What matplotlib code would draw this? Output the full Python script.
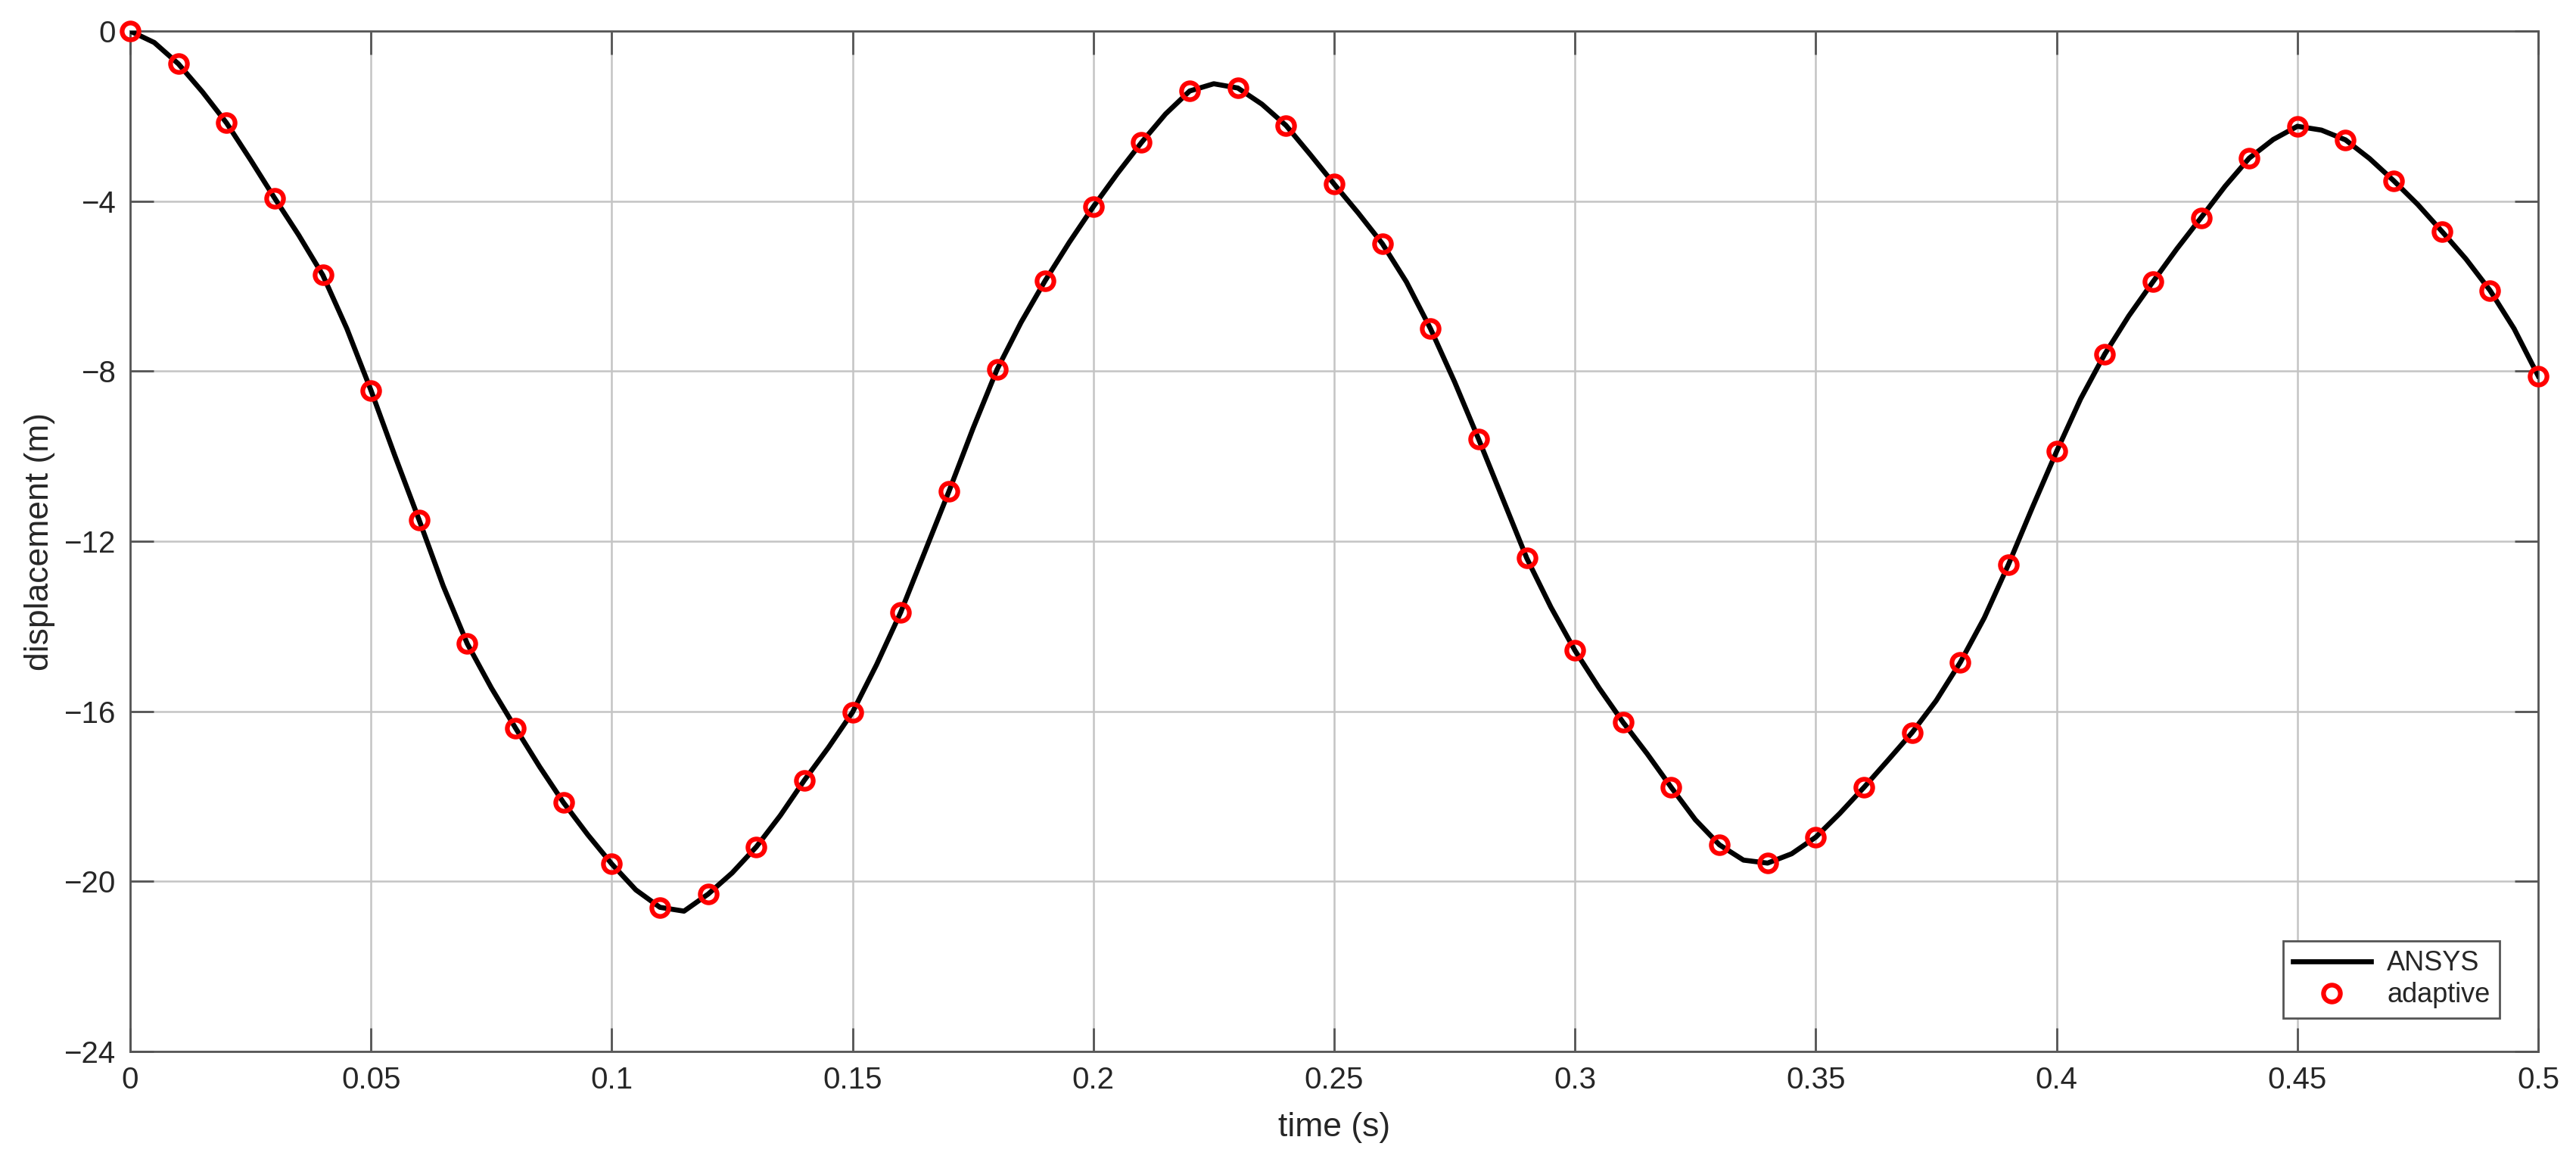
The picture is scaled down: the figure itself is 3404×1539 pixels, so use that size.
import matplotlib
matplotlib.use("Agg")
import matplotlib.pyplot as plt

t_adapt = [0.00, 0.01, 0.02, 0.03, 0.04, 0.05, 0.06, 0.07, 0.08, 0.09,
           0.10, 0.11, 0.12, 0.13, 0.14, 0.15, 0.16, 0.17, 0.18, 0.19,
           0.20, 0.21, 0.22, 0.23, 0.24, 0.25, 0.26, 0.27, 0.28, 0.29,
           0.30, 0.31, 0.32, 0.33, 0.34, 0.35, 0.36, 0.37, 0.38, 0.39,
           0.40, 0.41, 0.42, 0.43, 0.44, 0.45, 0.46, 0.47, 0.48, 0.49, 0.50]
u_adapt = [0.00, -0.77, -2.16, -3.93, -5.74, -8.45, -11.50, -14.41, -16.39, -18.15,
           -19.59, -20.61, -20.30, -19.19, -17.62, -16.02, -13.67, -10.83, -7.96, -5.87,
           -4.13, -2.62, -1.41, -1.34, -2.22, -3.60, -5.00, -7.00, -9.60, -12.40,
           -14.57, -16.26, -17.79, -19.14, -19.57, -18.96, -17.79, -16.50, -14.85, -12.55,
           -9.89, -7.60, -5.90, -4.39, -2.99, -2.24, -2.56, -3.52, -4.71, -6.10, -8.11]

# ANSYS reference curve, every 0.005 s
t_ansys = [0.000, 0.005, 0.010, 0.015, 0.020, 0.025, 0.030, 0.035, 0.040, 0.045,
           0.050, 0.055, 0.060, 0.065, 0.070, 0.075, 0.080, 0.085, 0.090, 0.095,
           0.100, 0.105, 0.110, 0.115, 0.120, 0.125, 0.130, 0.135, 0.140, 0.145,
           0.150, 0.155, 0.160, 0.165, 0.170, 0.175, 0.180, 0.185, 0.190, 0.195,
           0.200, 0.205, 0.210, 0.215, 0.220, 0.225, 0.230, 0.235, 0.240, 0.245,
           0.250, 0.255, 0.260, 0.265, 0.270, 0.275, 0.280, 0.285, 0.290, 0.295,
           0.300, 0.305, 0.310, 0.315, 0.320, 0.325, 0.330, 0.335, 0.340, 0.345,
           0.350, 0.355, 0.360, 0.365, 0.370, 0.375, 0.380, 0.385, 0.390, 0.395,
           0.400, 0.405, 0.410, 0.415, 0.420, 0.425, 0.430, 0.435, 0.440, 0.445,
           0.450, 0.455, 0.460, 0.465, 0.470, 0.475, 0.480, 0.485, 0.490, 0.495, 0.500]
u_ansys = [0.00, -0.27, -0.77, -1.43, -2.16, -3.03, -3.93, -4.80, -5.74, -7.00,
           -8.45, -10.00, -11.50, -13.05, -14.41, -15.45, -16.39, -17.30, -18.15, -18.90,
           -19.59, -20.20, -20.61, -20.70, -20.30, -19.80, -19.19, -18.45, -17.62, -16.85,
           -16.02, -14.90, -13.67, -12.25, -10.83, -9.35, -7.96, -6.85, -5.87, -4.97,
           -4.13, -3.35, -2.62, -1.95, -1.41, -1.24, -1.34, -1.72, -2.22, -2.90,
           -3.60, -4.28, -5.00, -5.90, -7.00, -8.25, -9.60, -11.00, -12.40, -13.55,
           -14.57, -15.45, -16.26, -17.00, -17.79, -18.55, -19.14, -19.50, -19.57, -19.35,
           -18.96, -18.40, -17.79, -17.15, -16.50, -15.75, -14.85, -13.80, -12.55, -11.20,
           -9.89, -8.65, -7.60, -6.70, -5.90, -5.12, -4.39, -3.65, -2.99, -2.55,
           -2.24, -2.33, -2.56, -3.00, -3.52, -4.08, -4.71, -5.36, -6.10, -7.00, -8.11]

xticks = [0, 0.05, 0.1, 0.15, 0.2, 0.25, 0.3, 0.35, 0.4, 0.45, 0.5]
xlabels = ["0", "0.05", "0.1", "0.15", "0.2", "0.25", "0.3", "0.35", "0.4", "0.45", "0.5"]
yticks = [-24, -20, -16, -12, -8, -4, 0]

plt.rcParams["font.family"] = ["Liberation Sans", "DejaVu Sans"]
txt = "#262626"
axc = "#555555"

fig = plt.figure(figsize=(34.04, 15.39), dpi=100)
ax = fig.add_axes([172 / 3404, 1 - 1389 / 1539, (3354 - 172) / 3404, (1389 - 41) / 1539])

ax.plot(t_ansys, u_ansys, color="black", lw=4.8, label="ANSYS", zorder=3,
        solid_joinstyle="round")
ax.plot(t_adapt, u_adapt, ls="none", marker="o", ms=16, mfc="none", mec="#ff0000",
        mew=4.5, label="adaptive", zorder=4, clip_on=False)

ax.set_xlim(0, 0.5)
ax.set_ylim(-24, 0)
ax.set_xticks(xticks)
ax.set_xticklabels(xlabels)
ax.set_yticks(yticks)
ax.grid(True, color="#c4c4c4", lw=1.8, zorder=0)
ax.set_axisbelow(True)

ax.tick_params(direction="in", length=22, width=2.0, colors=axc, labelcolor=txt,
               labelsize=29, top=True, right=True, pad=14)
for s in ax.spines.values():
    s.set_color(axc)
    s.set_linewidth(2.0)

ax.set_xlabel("time (s)", fontsize=32, color=txt, labelpad=16)
ax.set_ylabel("displacement (m)", fontsize=32, color=txt, labelpad=8)

leg = ax.legend(loc="lower right", bbox_to_anchor=(0.984, 0.0326), borderaxespad=0,
                fontsize=26, fancybox=False, framealpha=1, edgecolor=axc,
                handlelength=2.85, labelspacing=0.2, borderpad=0.35, handletextpad=0.6)
leg.get_frame().set_linewidth(2.0)
for t in leg.get_texts():
    t.set_color(txt)

fig.savefig("out.png", dpi=100)
